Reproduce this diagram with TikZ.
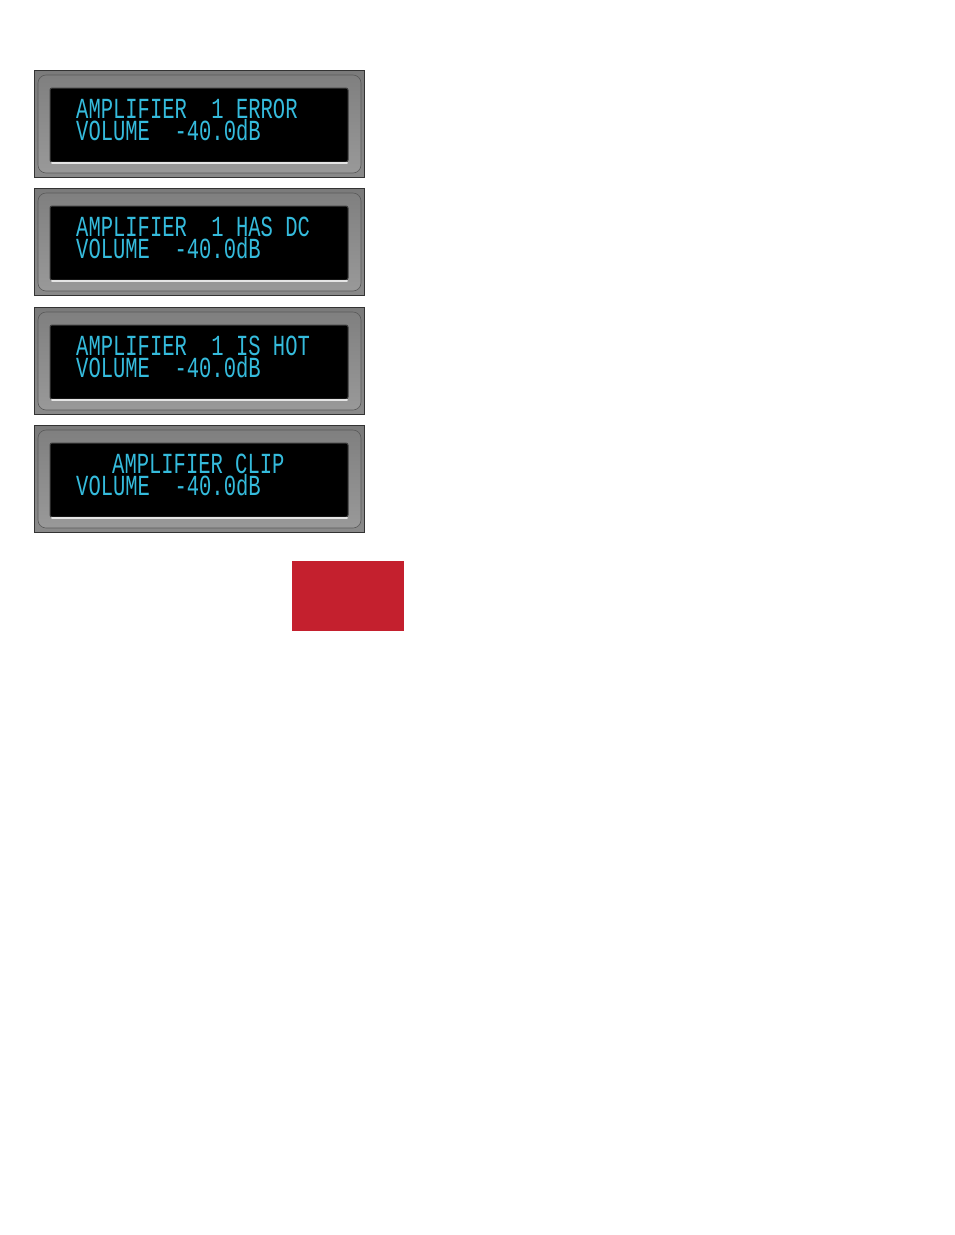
\documentclass[tikz,border=0pt]{standalone}
\usepackage{fontspec}
\setmonofont{Liberation Mono}
\tikzset{
    panelframe/.style={draw=black!80, line width=1pt, top color=black!52, bottom color=black!46},
    panelbezel/.style={draw=black!65, line width=0.6pt, rounded corners=8pt, top color=black!50, bottom color=black!40},
    panelscreen/.style={fill=black, draw=black!75, line width=1pt, rounded corners=2pt},
    panelglow/.style={draw=white!90!black, line width=2pt, line cap=round},
    lcdtext/.style={anchor=base west, inner sep=0pt, text=lcdblue, yscale=1.42, transform shape,
        font=\ttfamily\fontsize{20.5}{20.5}\selectfont},
}
\definecolor{lcdblue}{HTML}{35BBDC}
\definecolor{stopred}{HTML}{C4202E}
\begin{document}
\begin{tikzpicture}[x=1pt, y=-1pt]
    \useasboundingbox (0,0) rectangle (954,1235);

    % Display panels
    \foreach \top/\name/\startx/\msg in {70/error/76/AMPLIFIER\ \ 1 ERROR, 188/dc/76/AMPLIFIER\ \ 1 HAS DC,
        307/hot/76/AMPLIFIER\ \ 1 IS HOT, 425/clip/112/AMPLIFIER CLIP} {
        \begin{scope}[shift={(0,\top)}]
            \draw[panelframe] (34.5,0.5) rectangle (364.5,107.5);
            \draw[panelbezel] (38,5) rectangle (361,103);
            \filldraw[panelscreen] (50,18) rectangle (348,92);
            \draw[panelglow] (52,92.5) -- (347,92.5);
            \node[lcdtext] (\name top) at (\startx,48.3) {\msg};
            \node[lcdtext] (\name volume) at (76,70.8) {VOLUME\ \ -40.0dB};
        \end{scope}
    }

    % Red block
    \fill[stopred] (292,561) rectangle (404,631);
\end{tikzpicture}
\end{document}
